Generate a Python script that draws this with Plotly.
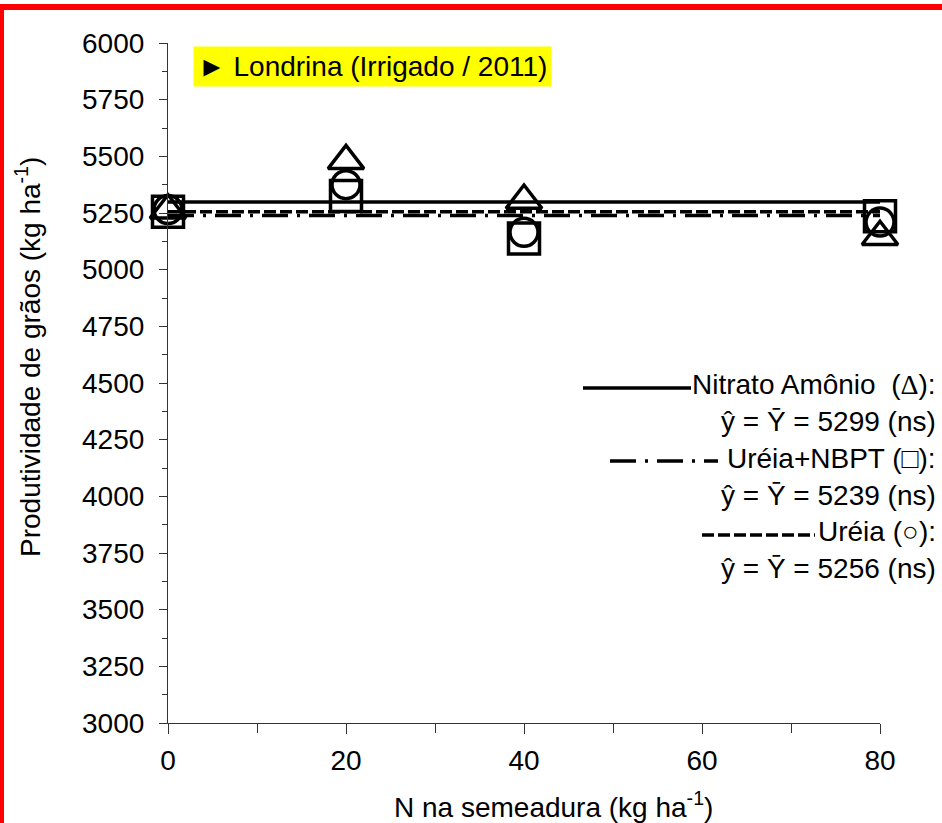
import plotly.graph_objects as go

# ---- data ----
N_RATES = [0, 20, 40, 80]
nitrato_amonio = [5262, 5480, 5305, 5145]
ureia_nbpt = [5256, 5325, 5138, 5236]
ureia = [5265, 5375, 5165, 5210]
mean_nitrato = 5299
mean_nbpt = 5239
mean_ureia = 5256
LINE_X = [0, 80]
X_TICKS = [0, 20, 40, 60, 80]
X_TITLE = "N na semeadura (kg ha<sup>-1</sup>)"
Y_TITLE = "Produtividade de grãos (kg ha<sup>-1</sup>)"
PANEL_TITLE = "► Londrina (Irrigado / 2011)"

W, H = 942, 823
L, R, T, B = 168, 62, 43, 100
PW, PH = W - L - R, H - T - B
FONT = "Liberation Sans, Arial, sans-serif"
FS = 28


def px(x):
    return (x - L) / PW


def py(y):
    return (H - B - y) / PH


fig = go.Figure()

# mean lines
fig.add_trace(go.Scatter(x=LINE_X, y=[mean_nitrato] * 2, mode="lines",
                         line=dict(color="black", width=3.5), showlegend=False))
fig.add_trace(go.Scatter(x=LINE_X, y=[mean_nbpt] * 2, mode="lines",
                         line=dict(color="black", width=3.5, dash="26px,9px,3px,9px"),
                         showlegend=False))
fig.add_trace(go.Scatter(x=LINE_X, y=[mean_ureia] * 2, mode="lines",
                         line=dict(color="black", width=3.5, dash="12px,4px"),
                         showlegend=False))

# markers
fig.add_trace(go.Scatter(x=N_RATES, y=ureia_nbpt, mode="markers", cliponaxis=False,
                         marker=dict(symbol="square-open", size=31, color="black",
                                     line=dict(width=3.5, color="black")), showlegend=False))
fig.add_trace(go.Scatter(x=N_RATES, y=ureia, mode="markers", cliponaxis=False,
                         marker=dict(symbol="circle-open", size=28, color="black",
                                     line=dict(width=3.5, color="black")), showlegend=False))
fig.add_trace(go.Scatter(x=N_RATES, y=nitrato_amonio, mode="markers", cliponaxis=False,
                         marker=dict(symbol="triangle-up-open", size=31, color="black",
                                     line=dict(width=3.5, color="black")), showlegend=False))

shapes = []
# red frame (top and left)
shapes.append(dict(type="rect", xref="paper", yref="paper", x0=px(0), x1=px(W),
                   y0=py(10), y1=py(4), fillcolor="red", line=dict(width=0), layer="above"))
shapes.append(dict(type="rect", xref="paper", yref="paper", x0=px(0), x1=px(4),
                   y0=py(H), y1=py(4), fillcolor="red", line=dict(width=0), layer="above"))

# legend line samples
shapes.append(dict(type="line", xref="paper", yref="paper", x0=px(583), x1=px(691),
                   y0=py(388), y1=py(388), line=dict(color="black", width=3.5)))
shapes.append(dict(type="line", xref="paper", yref="paper", x0=px(610), x1=px(718),
                   y0=py(461), y1=py(461), line=dict(color="black", width=3.5, dash="26px,9px,3px,9px")))
shapes.append(dict(type="line", xref="paper", yref="paper", x0=px(702), x1=px(815),
                   y0=py(535), y1=py(535), line=dict(color="black", width=3.5, dash="12px,4px")))

annotations = []
annotations.append(dict(xref="paper", yref="paper", x=px(193), y=py(66), xanchor="left",
                        yanchor="middle", showarrow=False, text=PANEL_TITLE,
                        font=dict(family=FONT, size=FS, color="black"),
                        bgcolor="#ffff00", borderpad=4))

# axis titles
annotations.append(dict(xref="paper", yref="paper", x=px(553), y=py(805), xanchor="center",
                        yanchor="middle", showarrow=False, text=X_TITLE,
                        font=dict(family=FONT, size=FS, color="black")))
annotations.append(dict(xref="paper", yref="paper", x=px(28), y=py(357), xanchor="center",
                        yanchor="middle", showarrow=False, text=Y_TITLE, textangle=-90,
                        font=dict(family=FONT, size=FS, color="black")))

leg_rows = [
    (384, 'Nitrato Amônio  (<span style="font-family:Liberation Serif">Δ</span>):'),
    (421, "ŷ = Ȳ = 5299 (ns)"),
    (458, "Uréia+NBPT (□):"),
    (495, "ŷ = Ȳ = 5239 (ns)"),
    (531, "Uréia (○):"),
    (568, "ŷ = Ȳ = 5256 (ns)"),
]
for yy, txt in leg_rows:
    annotations.append(dict(xref="paper", yref="paper", x=px(938), y=py(yy), xanchor="right",
                            yanchor="middle", showarrow=False, align="right", text=txt,
                            font=dict(family=FONT, size=FS, color="black")))

fig.update_layout(
    width=W, height=H,
    margin=dict(l=L, r=R, t=T, b=B, pad=0),
    paper_bgcolor="white", plot_bgcolor="white",
    font=dict(family=FONT, size=FS, color="black"),
    shapes=shapes, annotations=annotations,
    xaxis=dict(range=[0, 80], tickvals=X_TICKS, showgrid=False, zeroline=False,
               showline=True, linecolor="#333333", linewidth=1.2, automargin=False,
               ticks="outside", ticklen=10, tickcolor="#333333", tickwidth=1.2,
               ticklabelstandoff=2,
               minor=dict(dtick=10, ticks="outside", ticklen=9, tickcolor="#333333", tickwidth=1.2)),
    yaxis=dict(range=[3000, 6000], dtick=250, tick0=3000, showgrid=False, zeroline=False,
               showline=True, linecolor="#333333", linewidth=1.2, automargin=False,
               ticks="outside", ticklen=8, tickcolor="#333333", tickwidth=1.2,
               ticklabelstandoff=9,
               minor=dict(dtick=125, ticks="outside", ticklen=5, tickcolor="#333333", tickwidth=1.2)),
)

fig.write_html("out.html")
